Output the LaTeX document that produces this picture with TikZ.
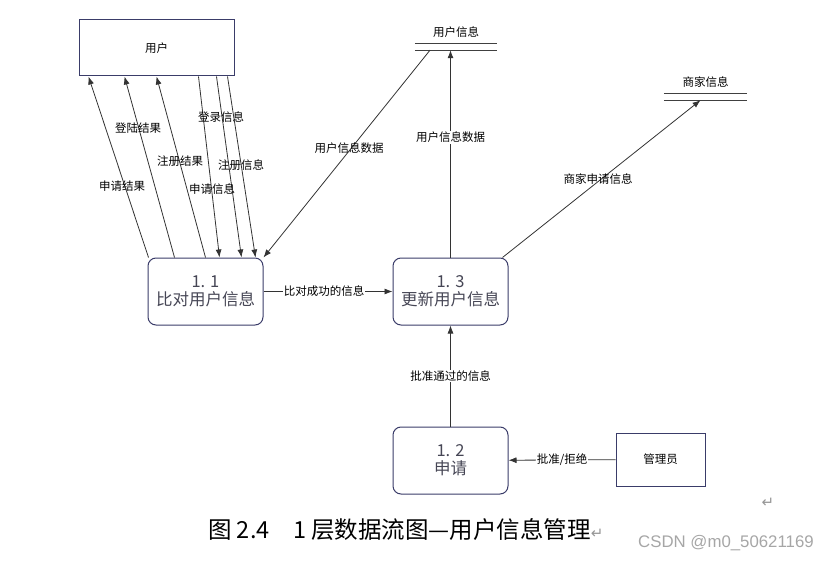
\documentclass[tikz,border=0pt]{standalone}
\usepackage{fontspec}
\setmainfont{Noto Sans CJK SC}
\newfontfamily\symfont{DejaVu Sans}
\newfontfamily\markfont{Liberation Sans}
\usetikzlibrary{arrows.meta}
\definecolor{boxline}{RGB}{58,60,105}
\definecolor{boxtext}{RGB}{70,70,85}
\definecolor{markgray}{RGB}{150,150,150}

\begin{document}
\begin{tikzpicture}[x=1pt, y=-1pt,
  entity/.style={draw=boxline, line width=1pt, minimum width=155pt, minimum height=56pt,
                 font=\fontsize{11.5}{13}\selectfont},
  proc/.style={draw=boxline, line width=1pt, rounded corners=8pt, minimum width=115pt,
               minimum height=67pt, align=center, text=boxtext,
               font=\fontsize{16.5}{18}\selectfont},
  store/.style={minimum width=82pt, minimum height=6pt, inner sep=0pt},
  flow/.style={-{Latex[length=8pt, width=6pt]}, line width=0.8pt, draw=black!80},
  lbl/.style={font=\fontsize{11.5}{13}\selectfont, inner sep=1pt},
  wlbl/.style={lbl, fill=white}
]
  \useasboundingbox (0,0) rectangle (829,561);

  % External entities
  \node[entity] (user) at (156.5,48) {用户};
  \node[entity, minimum width=89pt, minimum height=53pt] (admin) at (660.5,459.5) {管理员};

  % Processes
  \node[proc] (cmp) at (205.5,291.5) {1. 1\\比对用户信息};
  \node[proc] (upd) at (450.5,291.5) {1. 3\\更新用户信息};
  \node[proc] (apply) at (450.5,460.5) {1. 2\\申请};

  % Data stores
  \node[store, label={[lbl, label distance=5pt]above:用户信息}] (ustore) at (456,47) {};
  \node[store, minimum width=83pt, label={[lbl, label distance=5pt]above:商家信息}] (mstore) at (705.5,97) {};
  \foreach \s in {ustore, mstore}
    \draw[line width=0.8pt, black!75] (\s.north west) -- (\s.north east)
                                      (\s.south west) -- (\s.south east);

  % Flows between user and 1.1
  \draw[flow] ([xshift=-57pt]cmp.north) -- ([xshift=-68pt]user.south);
  \draw[flow] ([xshift=-31pt]cmp.north) -- ([xshift=-32pt]user.south);
  \draw[flow] (cmp.north) -- (user.south);
  \draw[flow] ([xshift=42pt]user.south) -- ([xshift=14pt]cmp.north);
  \draw[flow] ([xshift=60pt]user.south) -- ([xshift=36pt]cmp.north);
  \draw[flow] ([xshift=71pt]user.south) -- ([xshift=50pt]cmp.north);
  \node[lbl] (l1) at (122,186) {申请结果};
  \node[lbl] (l2) at (138,128) {登陆结果};
  \node[lbl] (l3) at (180,161) {注册结果};
  \node[lbl] (l4) at (212,189) {申请信息};
  \node[lbl] (l5) at (221,117) {登录信息};
  \node[lbl] (l6) at (241,165) {注册信息};

  % Flows to and from the stores
  \draw[flow] ([xshift=-26pt]ustore.south) -- (cmp.north east);
  \node[lbl] (l7) at (349,148) {用户信息数据};
  \draw[flow] (upd.north) -- node[wlbl, pos=0.58] {用户信息数据} (upd.north |- ustore.south);
  \draw[flow] ([xshift=-6pt]upd.north east) -- ([xshift=-5pt]mstore.south);
  \node[lbl] (l8) at (598,179) {商家申请信息};

  % Flows between processes
  \draw[flow] (cmp) -- node[wlbl, pos=0.47] {比对成功的信息} (upd);
  \draw[flow] (apply) -- node[wlbl] {批准通过的信息} (upd);
  \draw[flow] (admin) -- node[wlbl] {批准/拒绝} (apply);

  % Caption
  \node[anchor=west, font=\fontsize{23.5}{26}\selectfont, inner sep=0pt] (cap) at (208,530)
    {图 2.4　1 层数据流图—用户信息管理{\symfont\fontsize{15}{16}\selectfont\color{markgray}↵}};
  \node[font=\symfont\fontsize{15}{16}\selectfont, text=markgray] (ret) at (768,503) {↵};
  \node[anchor=west, font=\markfont\fontsize{16.8}{18}\selectfont, text=markgray!85, inner sep=0pt] (wm)
    at (638,543) {CSDN @m0\_50621169};
\end{tikzpicture}
\end{document}
